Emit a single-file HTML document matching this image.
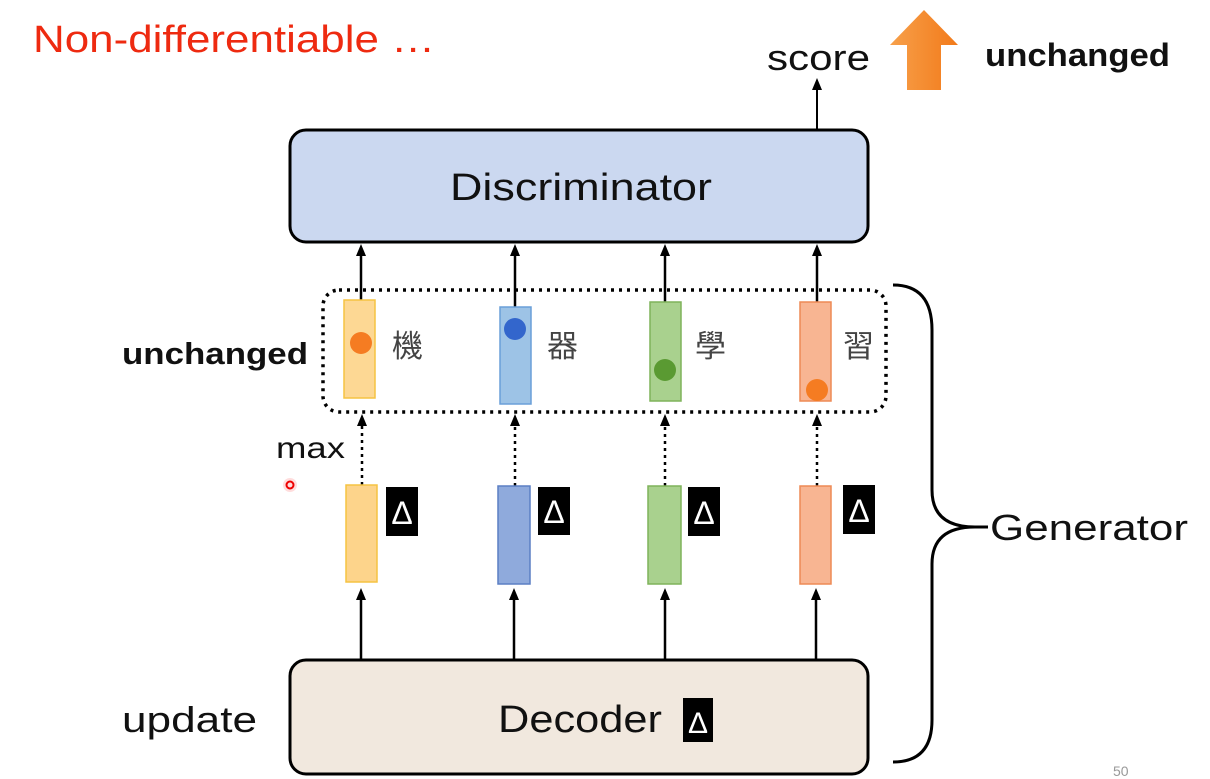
<!DOCTYPE html>
<html><head><meta charset="utf-8"><style>
html,body{margin:0;padding:0;background:#fff;}
svg{display:block;font-family:"Liberation Sans","Noto Sans CJK TC",sans-serif;}
</style></head><body>
<svg width="1210" height="779" viewBox="0 0 1210 779" xmlns="http://www.w3.org/2000/svg">
<defs>
<marker id="a" markerWidth="12" markerHeight="12" refX="6" refY="6" orient="auto" markerUnits="userSpaceOnUse">
<path d="M0,1 L12,6 L0,11 z" fill="#000"/></marker>
<linearGradient id="og" x1="0" x2="1"><stop offset="0" stop-color="#f7a04a"/><stop offset="1" stop-color="#f27a1a"/></linearGradient>
</defs>
<text x="33" y="52" font-size="38" fill="#ee2a10" textLength="402" lengthAdjust="spacingAndGlyphs">Non-differentiable …</text>
<text x="767" y="70" font-size="36" fill="#111" textLength="103" lengthAdjust="spacingAndGlyphs">score</text>
<path d="M907,90 L907,45 L890,45 L924,10 L958,45 L941,45 L941,90 Z" fill="url(#og)"/>
<text x="985" y="66" font-size="32" font-weight="bold" fill="#111" textLength="185" lengthAdjust="spacingAndGlyphs">unchanged</text>
<line x1="817" y1="130" x2="817" y2="84" stroke="#000" stroke-width="2" marker-end="url(#a)"/>
<rect x="290" y="130" width="578" height="112" rx="16" fill="#cbd8f0" stroke="#000" stroke-width="3"/>
<text x="450" y="200" font-size="38" fill="#111" textLength="262" lengthAdjust="spacingAndGlyphs">Discriminator</text>
<rect x="290" y="660" width="578" height="114" rx="16" fill="#f1e8de" stroke="#000" stroke-width="3"/>
<text x="498" y="732" font-size="38" fill="#111" textLength="164" lengthAdjust="spacingAndGlyphs">Decoder</text>
<rect x="683" y="698" width="30" height="44" fill="#000"/><text x="698" y="733" font-size="30" fill="#fff" text-anchor="middle">Δ</text>
<rect x="323" y="290" width="563" height="122" rx="16" fill="none" stroke="#000" stroke-width="3.5" stroke-dasharray="3 5"/>
<g stroke="#000" stroke-width="2.5">
<line x1="361" y1="300" x2="361" y2="250" marker-end="url(#a)"/>
<line x1="515" y1="307" x2="515" y2="250" marker-end="url(#a)"/>
<line x1="665" y1="302" x2="665" y2="250" marker-end="url(#a)"/>
<line x1="817" y1="302" x2="817" y2="250" marker-end="url(#a)"/>
<line x1="361" y1="660" x2="361" y2="594" marker-end="url(#a)"/>
<line x1="514" y1="660" x2="514" y2="594" marker-end="url(#a)"/>
<line x1="665" y1="660" x2="665" y2="594" marker-end="url(#a)"/>
<line x1="816" y1="660" x2="816" y2="594" marker-end="url(#a)"/>
</g>
<g stroke="#000" stroke-width="2.5" stroke-dasharray="3 4">
<line x1="362" y1="485" x2="362" y2="420" marker-end="url(#a)"/>
<line x1="515" y1="486" x2="515" y2="420" marker-end="url(#a)"/>
<line x1="665" y1="486" x2="665" y2="420" marker-end="url(#a)"/>
<line x1="817" y1="486" x2="817" y2="420" marker-end="url(#a)"/>
</g>
<rect x="344" y="300" width="31" height="98" fill="#fdd894" stroke="#f5c342" stroke-width="1.5"/>
<rect x="500" y="307" width="31" height="97" fill="#9dc3e6" stroke="#6a9fd8" stroke-width="1.5"/>
<rect x="650" y="302" width="31" height="99" fill="#a9d18e" stroke="#7fb35a" stroke-width="1.5"/>
<rect x="800" y="302" width="31" height="99" fill="#f8b592" stroke="#ee8a55" stroke-width="1.5"/>
<circle cx="361" cy="343" r="11" fill="#f57c22"/>
<circle cx="515" cy="329" r="11" fill="#3366cc"/>
<circle cx="665" cy="370" r="11" fill="#5a9a32"/>
<circle cx="817" cy="390" r="11" fill="#f57c22"/>
<g font-size="31" fill="#444" font-family="'Noto Sans CJK TC',sans-serif">
<text x="392" y="357">機</text><text x="547" y="357">器</text><text x="695" y="357">學</text><text x="843" y="357">習</text>
</g>
<rect x="346" y="485" width="31" height="97" fill="#fdd48b" stroke="#f5c342" stroke-width="1.5"/>
<rect x="498" y="486" width="32" height="98" fill="#8faadc" stroke="#5b7fc4" stroke-width="1.5"/>
<rect x="648" y="486" width="33" height="98" fill="#a9d18e" stroke="#7fb35a" stroke-width="1.5"/>
<rect x="800" y="486" width="31" height="98" fill="#f8b592" stroke="#ee8a55" stroke-width="1.5"/>
<g fill="#000"><rect x="386" y="487" width="32" height="49"/><rect x="538" y="487" width="32" height="48"/><rect x="688" y="487" width="32" height="49"/><rect x="843" y="485" width="32" height="49"/></g>
<g font-size="32" fill="#fff" text-anchor="middle"><text x="402" y="524">Δ</text><text x="554" y="523">Δ</text><text x="704" y="524">Δ</text><text x="859" y="522">Δ</text></g>
<text x="122" y="364" font-size="31" font-weight="bold" fill="#111" textLength="186" lengthAdjust="spacingAndGlyphs">unchanged</text>
<text x="276" y="458" font-size="30" fill="#111" textLength="69" lengthAdjust="spacingAndGlyphs">max</text>
<circle cx="290" cy="485" r="7" fill="#ffdddd"/><circle cx="290" cy="485" r="3.5" fill="none" stroke="#e00" stroke-width="2"/>
<text x="122" y="732" font-size="36" fill="#111" textLength="135" lengthAdjust="spacingAndGlyphs">update</text>
<path d="M893,285 Q932,285 932,330 L932,490 Q932,527 975,527 Q932,527 932,564 L932,720 Q932,762 893,762" fill="none" stroke="#000" stroke-width="3"/>
<line x1="960" y1="527" x2="988" y2="527" stroke="#000" stroke-width="3"/>
<text x="990" y="540" font-size="36" fill="#111" textLength="198" lengthAdjust="spacingAndGlyphs">Generator</text>
<text x="1113" y="776" font-size="14" fill="#999">50</text>
</svg>
</body></html>
